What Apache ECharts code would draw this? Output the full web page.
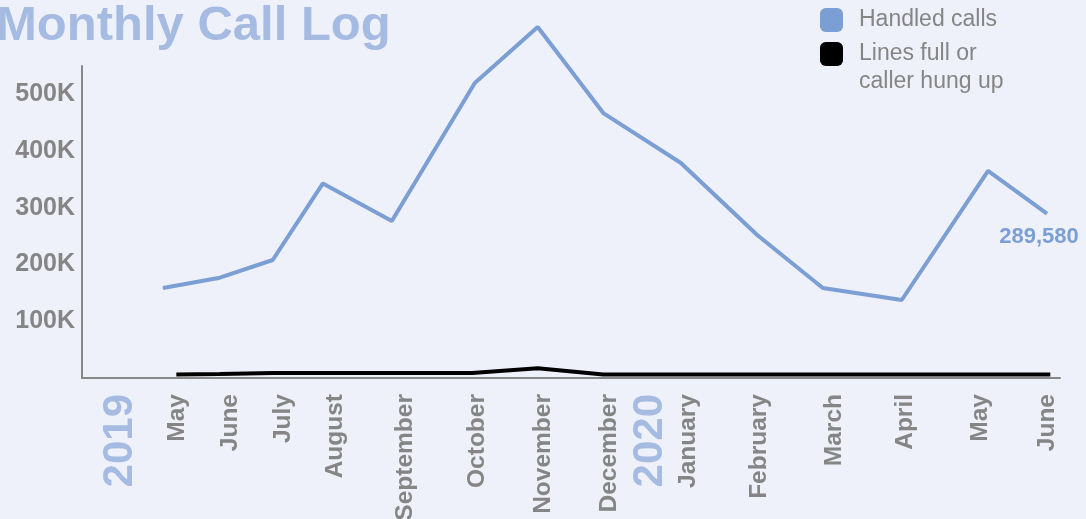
<!DOCTYPE html>
<html>
<head>
<meta charset="utf-8">
<title>Monthly Call Log</title>
<script src="https://cdn.jsdelivr.net/npm/echarts@6/dist/echarts.min.js"></script>
<style>
  html, body { margin: 0; padding: 0; background: #eef1f9; }
  #chart { width: 1086px; height: 519px; }
</style>
</head>
<body>
<div id="chart"></div>
<script>
// timeline runs in months, 0 = May 2019 label, 13 = June 2020 label
const monthNames = ['May', 'June', 'July', 'August', 'September', 'October', 'November',
  'December', 'January', 'February', 'March', 'April', 'May', 'June']
const monthPos = [0, 0.79, 1.58, 2.36, 3.41, 4.48, 5.48, 6.46, 7.64, 8.70, 9.82, 10.88, 12.01, 13]
const yearNames = ['2019', '2020']
const yearPos = [-0.85, 7.07]

// handled calls
const handledPos = [-0.21, 0.64, 1.43, 2.18, 3.21, 4.45, 5.39, 6.37, 7.53, 8.67, 9.65, 10.83, 12.12, 13.0]
const handledCalls = [158700, 176800, 208000, 343000, 276800, 520000, 618700, 467000, 379000, 252000, 158700, 137500, 365000, 289580]

// lines full or caller hung up
const hungUpPos = [-0.01, 0.64, 1.43, 2.18, 3.21, 4.41, 5.39, 6.37, 7.53, 8.67, 9.65, 10.83, 12.12, 13.05]
const hungUp = [6200, 7000, 8800, 8800, 8800, 8800, 17100, 6200, 6200, 6200, 6200, 6200, 6200, 6200]

const yMax = 550000
const yStep = 100000

const BLUE = '#7b9fd4'
const LIGHT_BLUE = '#a6bbe2'
const GREY = '#858585'
const FONT = '"Liberation Sans", Arial, sans-serif'
const HUNG_UP = 'Lines full or\ncaller hung up'

const chart = echarts.init(document.getElementById('chart'))

const labelOf = (v) => {
  let i = monthPos.findIndex(p => Math.abs(p - v) < 1e-6)
  if (i >= 0) return '{month|' + monthNames[i] + '}'
  i = yearPos.findIndex(p => Math.abs(p - v) < 1e-6)
  if (i >= 0) return '{year|' + yearNames[i] + '}'
  return ''
}

const handledData = handledPos.map((x, i) => {
  const item = { value: [x, handledCalls[i]] }
  if (i === handledPos.length - 1) {
    item.label = {
      show: true,
      position: 'bottom',
      distance: 12,
      offset: [-8, 0],
      formatter: (p) => p.value[1].toLocaleString('en-US'),
      color: BLUE,
      fontWeight: 'bold',
      fontSize: 22,
      fontFamily: FONT
    }
  }
  return item
})

const option = {
  backgroundColor: '#eef1f9',
  animation: false,
  textStyle: { fontFamily: FONT },
  title: {
    text: 'Monthly Call Log',
    left: -9,
    top: -3,
    textStyle: { fontSize: 49, fontWeight: 'bold', color: LIGHT_BLUE, fontFamily: FONT }
  },
  legend: [
    {
      left: 820,
      top: 6,
      orient: 'vertical',
      padding: 0,
      icon: 'roundRect',
      itemWidth: 23,
      itemHeight: 24,
      selectedMode: false,
      data: ['Handled calls'],
      textStyle: { fontSize: 23, color: GREY, lineHeight: 28, padding: [0, 0, 0, 11] }
    },
    {
      left: 820,
      top: 12,
      orient: 'vertical',
      padding: 0,
      icon: 'roundRect',
      itemWidth: 23,
      itemHeight: 24,
      selectedMode: false,
      data: [HUNG_UP],
      // empty first line keeps "Lines full or" level with the swatch
      formatter: (name) => '\n' + name,
      textStyle: { fontSize: 23, color: GREY, lineHeight: 28, padding: [0, 0, 0, 11] }
    }
  ],
  grid: {
    left: 82,
    right: 26,
    top: 66,
    bottom: 141,
    containLabel: false,
    outerBoundsMode: 'none'
  },
  xAxis: {
    type: 'value',
    min: -1.42,
    max: 13.195,
    splitLine: { show: false },
    axisTick: { show: false },
    axisLine: { show: true, onZero: false, lineStyle: { color: '#888', width: 2 } },
    axisLabel: {
      customValues: monthPos.concat(yearPos),
      rotate: 90,
      margin: 16,
      formatter: labelOf,
      rich: {
        month: { fontSize: 24.5, fontWeight: 'bold', color: GREY, fontFamily: FONT },
        year: { fontSize: 42, fontWeight: 'bold', color: LIGHT_BLUE, fontFamily: FONT }
      }
    }
  },
  yAxis: {
    type: 'value',
    min: 0,
    max: yMax,
    interval: yStep,
    splitLine: { show: false },
    axisTick: { show: false },
    axisLine: { show: true, onZero: false, lineStyle: { color: '#888', width: 2 } },
    axisLabel: {
      showMaxLabel: false,
      margin: 7,
      fontSize: 25,
      fontWeight: 'bold',
      color: GREY,
      formatter: (v) => (v === 0 || v === yMax) ? '' : (v / 1000) + 'K'
    }
  },
  series: [
    {
      name: HUNG_UP,
      type: 'line',
      data: hungUpPos.map((x, i) => [x, hungUp[i]]),
      showSymbol: false,
      clip: false,
      itemStyle: { color: '#000' },
      lineStyle: { color: '#000', width: 4 }
    },
    {
      name: 'Handled calls',
      type: 'line',
      data: handledData,
      symbol: 'circle',
      symbolSize: 1,
      clip: false,
      itemStyle: { color: BLUE },
      lineStyle: { color: BLUE, width: 4 },
      z: 3
    }
  ]
}

chart.setOption(option)
window.addEventListener('resize', () => chart.resize())
</script>
</body>
</html>
